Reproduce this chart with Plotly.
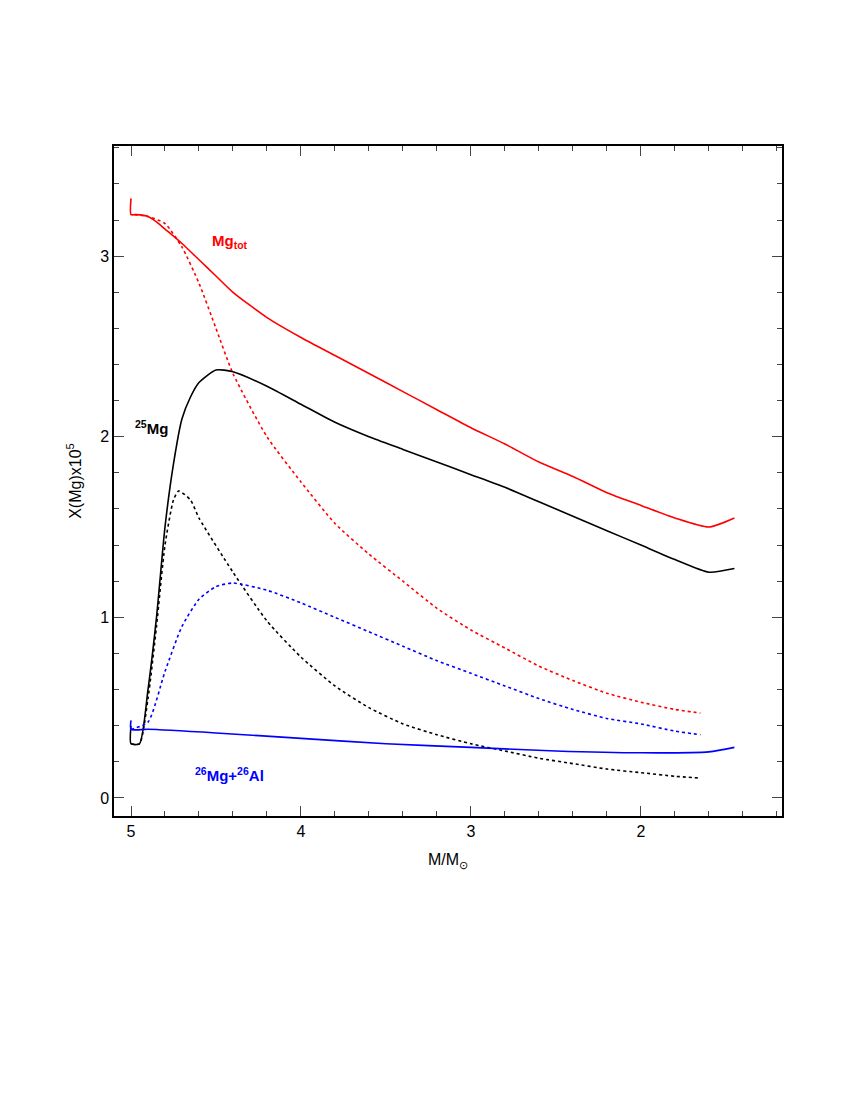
import plotly.graph_objects as go

# --- data ---
mgtot_x = [5.0, 5.0, 4.97, 4.9, 4.85, 4.8, 4.7, 4.6, 4.5, 4.4, 4.2, 4.0, 3.8, 3.6, 3.4, 3.2, 3.0, 2.8, 2.6, 2.4, 2.2, 2.0, 1.8, 1.6, 1.45]
mgtot_y = [3.32, 3.23, 3.23, 3.22, 3.19, 3.15, 3.07, 2.98, 2.89, 2.8, 2.66, 2.55, 2.45, 2.35, 2.25, 2.15, 2.05, 1.96, 1.86, 1.78, 1.69, 1.62, 1.55, 1.5, 1.55]

mgtot_dot_x = [4.98, 4.9, 4.8, 4.7, 4.6, 4.5, 4.4, 4.2, 4.0, 3.8, 3.6, 3.4, 3.2, 3.0, 2.8, 2.6, 2.4, 2.2, 2.0, 1.8, 1.65]
mgtot_dot_y = [3.23, 3.22, 3.18, 3.05, 2.85, 2.6, 2.35, 2.0, 1.75, 1.52, 1.35, 1.2, 1.05, 0.93, 0.83, 0.73, 0.65, 0.58, 0.53, 0.49, 0.47]

mg25_x = [5.0, 5.0, 4.95, 4.9, 4.85, 4.8, 4.75, 4.7, 4.65, 4.6, 4.5, 4.4, 4.2, 4.0, 3.8, 3.6, 3.4, 3.2, 3.0, 2.8, 2.6, 2.4, 2.2, 2.0, 1.8, 1.6, 1.45]
mg25_y = [0.4, 0.3, 0.3, 0.6, 1.0, 1.5, 1.85, 2.1, 2.22, 2.3, 2.37, 2.36, 2.28, 2.18, 2.08, 2.0, 1.93, 1.86, 1.79, 1.72, 1.64, 1.56, 1.48, 1.4, 1.32, 1.25, 1.27]

mg25_dot_x = [5.0, 4.95, 4.9, 4.85, 4.8, 4.75, 4.72, 4.65, 4.6, 4.4, 4.2, 4.0, 3.8, 3.6, 3.4, 3.2, 3.0, 2.8, 2.6, 2.4, 2.2, 2.0, 1.8, 1.65]
mg25_dot_y = [0.3, 0.3, 0.55, 0.95, 1.4, 1.65, 1.7, 1.65, 1.55, 1.25, 0.98, 0.78, 0.62, 0.5, 0.41, 0.35, 0.3, 0.26, 0.22, 0.19, 0.16, 0.14, 0.12, 0.11]

mg26_dot_x = [5.0, 4.9, 4.8, 4.7, 4.6, 4.5, 4.4, 4.2, 4.0, 3.8, 3.6, 3.4, 3.2, 3.0, 2.8, 2.6, 2.4, 2.2, 2.0, 1.8, 1.65]
mg26_dot_y = [0.38, 0.42, 0.7, 0.95, 1.1, 1.17, 1.19, 1.15, 1.08, 1.0, 0.92, 0.84, 0.76, 0.69, 0.62, 0.55, 0.49, 0.44, 0.41, 0.37, 0.35]

mg26_x = [5.0, 5.0, 4.9, 4.5, 4.0, 3.5, 3.0, 2.5, 2.0, 1.6, 1.45]
mg26_y = [0.43, 0.38, 0.38, 0.36, 0.33, 0.30, 0.28, 0.26, 0.25, 0.255, 0.28]

RED, BLACK, BLUE = "#ff0000", "#000000", "#0000ff"

fig = go.Figure()
for xs, ys, col, dash in [
    (mgtot_x, mgtot_y, RED, "solid"), (mgtot_dot_x, mgtot_dot_y, RED, "dot"),
    (mg25_x, mg25_y, BLACK, "solid"), (mg25_dot_x, mg25_dot_y, BLACK, "dot"),
    (mg26_dot_x, mg26_dot_y, BLUE, "dot"), (mg26_x, mg26_y, BLUE, "solid"),
]:
    fig.add_trace(go.Scatter(x=xs, y=ys, mode="lines",
                             line=dict(color=col, width=1.6, dash=dash, shape="spline", smoothing=0.6),
                             showlegend=False, hoverinfo="skip"))

labels = [
    (4.42, 3.08, "<b>Mg<sub>tot</sub></b>", RED),
    (4.88, 2.05, "<b><sup>25</sup>Mg</b>", BLACK),
    (4.42, 0.13, "<b><sup>26</sup>Mg+<sup>26</sup>Al</b>", BLUE),
]
for x, y, t, c in labels:
    fig.add_annotation(x=x, y=y, text=t, showarrow=False, font=dict(color=c, size=15))

axis_common = dict(showline=True, linecolor="black", linewidth=1.5, mirror="ticks", ticks="inside",
                   ticklen=10, tickwidth=1.2, showgrid=False, zeroline=False,
                   tickfont=dict(size=16, color="black"),
                   minor=dict(ticks="inside", ticklen=5, tickwidth=1.2, showgrid=False))

fig.update_xaxes(range=[5.1, 1.17], dtick=1, tick0=0, title=dict(text="M/M<sub>⊙</sub>", font=dict(size=16)),
                 **axis_common)
fig.update_xaxes(minor_dtick=0.2)
fig.update_yaxes(range=[-0.1, 3.61], dtick=1, tick0=0, title=dict(text="X(Mg)x10<sup>5</sup>", font=dict(size=16)),
                 **axis_common)
fig.update_yaxes(minor_dtick=0.2)

fig.update_layout(width=850, height=1100, plot_bgcolor="white", paper_bgcolor="white",
                  margin=dict(l=106, r=76, t=138, b=292),
                  font=dict(family="Liberation Sans", color="black"))

fig.write_html("out.html")
